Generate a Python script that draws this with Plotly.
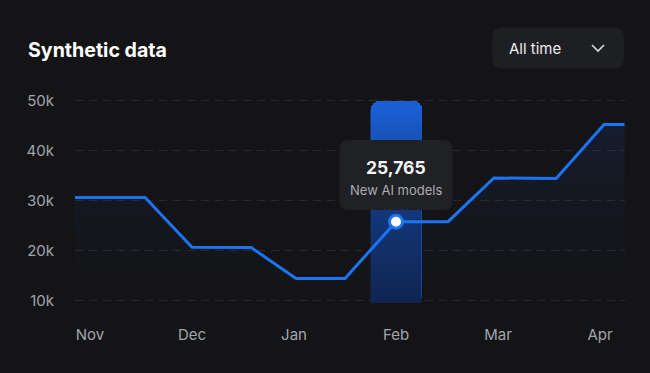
import plotly.graph_objects as go

# ---- data ----
months = ["Nov", "Dec", "Jan", "Feb", "Mar", "Apr"]
month_pos = [0, 1, 2, 3, 4, 5]
line_x = [-0.15, 0.54, 1.0, 1.58, 2.02, 2.5, 3.0, 3.51, 3.96, 4.57, 5.04, 5.24]
line_y = [30600, 30600, 20650, 20600, 14400, 14400, 25765, 25765, 34500, 34400, 45200, 45200]
y_ticks = [10000, 20000, 30000, 40000, 50000]
y_tick_text = ["10k", "20k", "30k", "40k", "50k"]
highlight_x = 3.0
highlight_value = 25765
highlight_label = "New AI models"
highlight_bar_top = 50000
highlight_bar_width = 0.5
title_text = "Synthetic data"
dropdown_text = "All time"

# ---- style ----
BG = "#141416"
BLUE = "#1b74f5"
BAR_TOP = "#1a5fd3"
BAR_BOTTOM = "#0f2552"
TICK_COLOR = "#a0a4ad"
GRID = "#2a2b2f"
FONT = "Inter"

Y0, Y1 = 9500, 50500
X0, X1 = -0.147, 5.245

fig = go.Figure()

# highlight bar (solid, rounded top)
fig.add_trace(go.Bar(
    x=[highlight_x], y=[highlight_bar_top - Y0], base=[Y0],
    width=highlight_bar_width,
    marker=dict(color=BAR_TOP, cornerradius=8, line=dict(width=0)),
    hoverinfo="skip", showlegend=False,
))

# gradient body of the bar
hx0 = highlight_x - highlight_bar_width / 2
hx1 = highlight_x + highlight_bar_width / 2
grad_top = highlight_bar_top - 1800
fig.add_trace(go.Scatter(
    x=[hx0, hx1, hx1, hx0, hx0], y=[Y0, Y0, grad_top, grad_top, Y0],
    mode="lines", line=dict(width=0), fill="toself",
    fillgradient=dict(type="vertical",
                      colorscale=[[0, BAR_BOTTOM], [0.55, "#133a80"], [1, BAR_TOP]]),
    hoverinfo="skip", showlegend=False,
))

# area under line
fig.add_trace(go.Scatter(
    x=line_x, y=line_y, mode="lines", line=dict(width=0),
    fill="tozeroy",
    fillgradient=dict(type="vertical",
                      colorscale=[[0, "rgba(20,20,22,0)"], [1, "rgba(30,70,160,0.18)"]]),
    hoverinfo="skip", showlegend=False,
))

# line
fig.add_trace(go.Scatter(
    x=line_x, y=line_y, mode="lines",
    line=dict(color=BLUE, width=3),
    hoverinfo="skip", showlegend=False,
))

# highlighted point
fig.add_trace(go.Scatter(
    x=[highlight_x], y=[highlight_value], mode="markers",
    marker=dict(size=13, color="white", line=dict(color=BLUE, width=3)),
    hoverinfo="skip", showlegend=False,
))

def rrect(w, h, r):
    x0, x1, y0, y1 = -w / 2, w / 2, -h / 2, h / 2
    return (f"M {x0 + r},{y0} L {x1 - r},{y0} Q {x1},{y0} {x1},{y0 + r} "
            f"L {x1},{y1 - r} Q {x1},{y1} {x1 - r},{y1} L {x0 + r},{y1} "
            f"Q {x0},{y1} {x0},{y1 - r} L {x0},{y0 + r} Q {x0},{y0} {x0 + r},{y0} Z")

shapes = []
# tooltip box
tip_center_y = 35100
shapes.append(dict(type="path", xref="x", yref="y", xsizemode="pixel", ysizemode="pixel",
                   xanchor=highlight_x, yanchor=tip_center_y, path=rrect(113, 70, 9),
                   fillcolor="#202124", line=dict(width=0), layer="above"))
# dropdown box
dd_x = (558 - 75) / 550
dd_y = (302.5 - 47.5) / 205
shapes.append(dict(type="path", xref="paper", yref="paper", xsizemode="pixel", ysizemode="pixel",
                   xanchor=dd_x, yanchor=dd_y, path=rrect(132, 41, 10),
                   fillcolor="#1e1f22", line=dict(width=0), layer="above"))
# chevron
ch_x = (598 - 75) / 550
shapes.append(dict(type="path", xref="paper", yref="paper", xsizemode="pixel", ysizemode="pixel",
                   xanchor=ch_x, yanchor=dd_y, path="M -6,3 L 0,-3 L 6,3",
                   line=dict(color="#d8d9dc", width=1.6), layer="above"))

annotations = [
    dict(text=f"<b>{highlight_value:,}</b>", xref="x", yref="y", x=highlight_x,
         y=tip_center_y, yshift=8, showarrow=False,
         font=dict(family=FONT, size=17.5, color="#f4f4f5"), yanchor="middle",
         xanchor="center"),
    dict(text=highlight_label, xref="x", yref="y", x=highlight_x, y=tip_center_y,
         yshift=-15, showarrow=False, font=dict(family=FONT, size=13, color="#a9adb5"),
         yanchor="middle", xanchor="center"),
    dict(text=f"<b>{title_text}</b>", xref="paper", yref="paper",
         x=(26 - 75) / 550, y=(302.5 - 49) / 205, xanchor="left", yanchor="middle",
         showarrow=False, font=dict(family=FONT, size=19.6, color="#ffffff")),
    dict(text=dropdown_text, xref="paper", yref="paper",
         x=(507 - 75) / 550, y=(302.5 - 47.5) / 205, xanchor="left", yanchor="middle",
         showarrow=False, font=dict(family=FONT, size=15, color="#ececee")),
]

fig.update_layout(
    width=650, height=373,
    margin=dict(l=75, r=25, t=98, b=70, pad=0),
    paper_bgcolor=BG, plot_bgcolor=BG,
    showlegend=False, bargap=0,
    shapes=shapes, annotations=annotations,
    font=dict(family=FONT, color=TICK_COLOR),
    xaxis=dict(range=[X0, X1], tickvals=month_pos, ticktext=months,
               showgrid=False, zeroline=False, showline=False, ticks="",
               tickfont=dict(family=FONT, size=15, color=TICK_COLOR),
               ticklabelstandoff=21, fixedrange=True),
    yaxis=dict(range=[Y0, Y1], tickvals=y_ticks, ticktext=y_tick_text,
               showgrid=True, gridcolor=GRID, griddash="8px,6px", gridwidth=1,
               zeroline=False, showline=False, ticks="",
               tickfont=dict(family=FONT, size=15, color=TICK_COLOR),
               ticklabelstandoff=20, fixedrange=True),
)

fig.write_html("out.html", config={"displayModeBar": False},
               post_script="document.body.style.margin='0';document.body.style.background='#141416';")
